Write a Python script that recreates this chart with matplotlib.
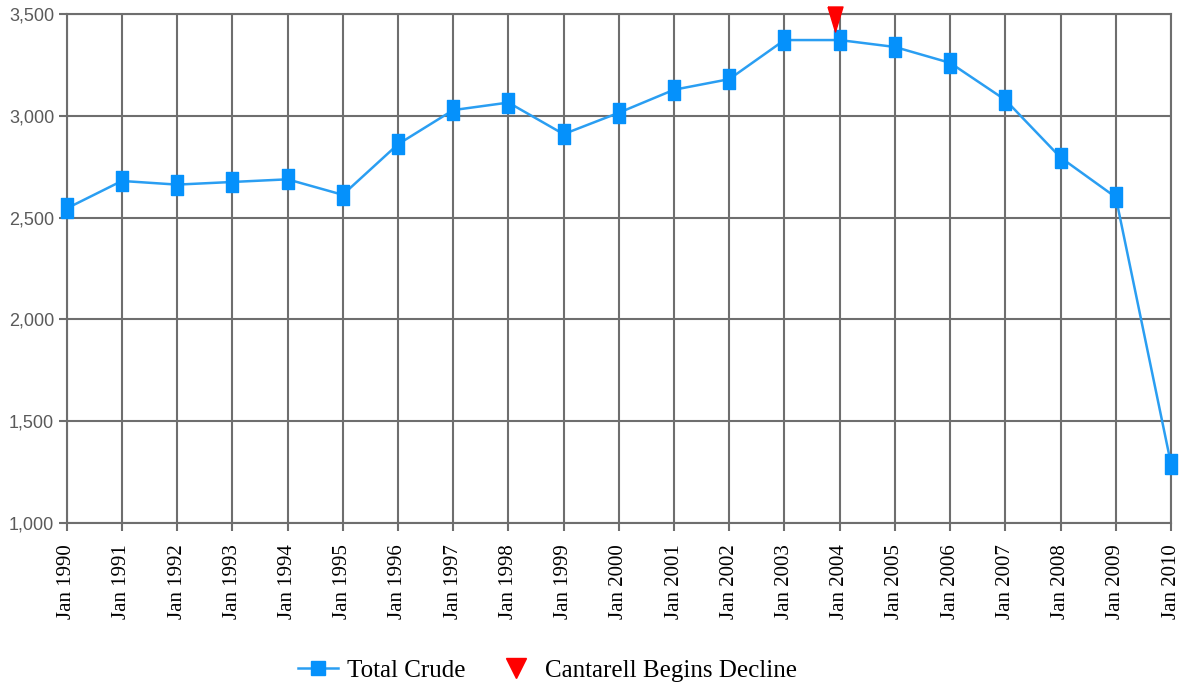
import numpy as np
import matplotlib.pyplot as plt
from matplotlib.lines import Line2D

years = list(range(1990, 2011))
tick_labels = ["Jan %d" % y for y in years]
total_crude = [2545, 2680, 2662, 2675, 2688, 2612, 2860, 3028, 3065, 2910, 3015,
               3128, 3180, 3372, 3372, 3338, 3260, 3078, 2795, 2600, 1290]
decline_x = [13.92]   # Dec 2003, in years since Jan 1990
decline_y = [3475]

blue = "#0591FB"
line_blue = "#2A9EF2"
grid_gray = "#6E6E6E"

rect = [(-0.31, -0.5), (0.31, -0.5), (0.31, 0.5), (-0.31, 0.5), (-0.31, -0.5)]
tri = [(-0.3, 0.5), (0.3, 0.5), (0.0, -0.5), (-0.3, 0.5)]

fig = plt.figure(figsize=(11.88, 6.86), dpi=100)
ax = fig.add_axes([0.0561, 0.2376, 0.9296, 0.742])

x = np.arange(len(years))
ax.plot(x, total_crude, color=line_blue, lw=1.8, marker=rect, markersize=15,
        markerfacecolor=blue, markeredgecolor=blue, zorder=3, clip_on=False)
ax.plot(decline_x, decline_y, linestyle="none", marker=tri, markersize=18,
        color="#FF0000", zorder=4, clip_on=False)

ax.set_xlim(0, len(years) - 1)
ax.set_ylim(1000, 3500)
ax.set_xticks(x)
ax.set_xticklabels(tick_labels, rotation=90, fontsize=15,
                   family=["Liberation Serif", "DejaVu Serif"], color="black")
ax.set_yticks([1000, 1500, 2000, 2500, 3000, 3500])
ax.set_yticklabels(["1,000", "1,500", "2,000", "2,500", "3,000", "3,500"],
                   fontsize=13, family=["Liberation Sans", "DejaVu Sans"],
                   color="#5A5A5A")
ax.tick_params(axis="both", length=6, width=1.5, color=grid_gray)
ax.tick_params(axis="x", pad=9)
ax.tick_params(axis="y", pad=3)
ax.grid(True, color=grid_gray, lw=1.5)
ax.set_axisbelow(True)
for s in ax.spines.values():
    s.set_color(grid_gray)
    s.set_linewidth(1.5)

handles = [
    Line2D([], [], color=line_blue, lw=1.8, marker="s", markersize=10,
           markerfacecolor=blue, markeredgecolor=blue),
    Line2D([], [], linestyle="none", marker="v", markersize=14, color="#FF0000"),
]
fig.legend(handles, ["Total Crude", "Cantarell Begins Decline"], loc="center",
           bbox_to_anchor=(0.461, 0.022), ncol=2, frameon=False,
           prop={"family": ["Liberation Serif", "DejaVu Serif"], "size": 18},
           handlelength=1.6, handletextpad=0.36, columnspacing=1.2)

fig.savefig("out.png", dpi=100)
